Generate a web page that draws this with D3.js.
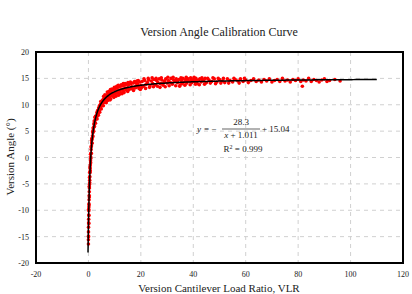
<!DOCTYPE html>
<meta charset="utf-8">
<style>
body { margin: 0; background: #fff; }
text { font-family: "Liberation Serif", "Times New Roman", serif; fill: #222; }
</style>
<svg width="412" height="294" id="svg"></svg>
<script src="https://d3js.org/d3.v7.min.js"></script>
<script>

// measured points (VLR, version angle)
var points = [
  [0.0,-16.4],[0.0,-15.6],[0.02,-14.9],[0.03,-14.1],[0.05,-13.2],[0.08,-12.4],[0.1,-11.7],[0.12,-10.9],
  [0.15,-10.1],[0.18,-9.4],[0.2,-8.8],[0.25,-8.0],[0.3,-7.2],[0.33,-6.5],[0.38,-5.8],[0.42,-5.1],
  [0.48,-4.3],[0.52,-3.6],[0.58,-2.9],[0.65,-2.1],[0.72,-1.4],[0.8,-0.6],[0.88,0.1],[0.95,0.8],
  [1.05,1.5],[1.15,2.2],[1.25,2.8],[1.4,3.5],[1.55,4.1],[1.7,4.7],[1.85,5.2],[2.0,5.7],
  [2.2,6.2],[2.4,6.7],[2.6,7.1],[2.8,7.6],[3.0,7.9],[0.1,-9.8],[0.3,-5.5],[0.6,-1.8],
  [1.0,2.0],[1.3,3.6],[1.8,5.6],[2.2,6.9],[2.5,7.6],[0.4,-3.8],[0.9,-0.2],
  [0.2,-11.0],[0.35,-7.5],[0.5,-4.8],[0.7,-2.5],[0.85,-1.0],[1.1,0.8],[1.4,2.7],[1.7,4.0],
  [2.0,5.0],[2.3,5.9],[2.7,6.5],[0.15,-12.5],[0.5,-2.8],[0.8,0.6],[1.2,3.2],[1.6,4.9],
  [2.1,6.4],[2.7,7.8],[0.05,-15.0],[0.25,-9.0],
  [3.2,8.5],[3.4,8.0],[3.5,8.9],[3.7,8.6],[3.9,9.4],[4.0,8.9],[4.2,9.8],[4.4,9.3],
  [4.6,10.1],[4.8,9.7],[5.0,10.6],[5.2,10.0],[5.4,10.9],[5.6,10.4],[5.9,11.2],[6.1,10.7],
  [6.4,11.5],[6.6,11.0],[6.9,11.8],[7.1,11.3],[7.4,12.0],[7.7,11.5],[8.0,12.3],[8.3,11.7],
  [8.6,12.5],[8.9,12.0],[9.2,12.8],[9.5,12.1],[9.8,12.9],[10.0,12.3],
  [10.4,13.1],[10.7,12.4],[11.0,13.2],[11.3,12.6],[11.6,13.4],[12.0,12.8],[12.3,13.5],[12.7,12.9],
  [13.0,13.6],[13.4,13.0],[13.8,13.7],[14.1,13.1],[14.5,13.9],[14.9,13.2],[15.3,13.8],[15.7,13.0],
  [16.1,14.0],[16.5,13.4],[17.0,14.1],[17.4,13.3],[17.8,14.2],[18.2,13.6],[18.7,14.0],[19.1,13.4],
  [19.6,14.3],[20.0,13.7],
  [3.1,7.6],[3.6,8.3],[4.1,9.0],[4.5,9.6],[5.1,9.8],[5.5,10.3],[6.0,10.5],[6.5,10.8],
  [7.0,11.0],[7.5,11.3],[8.1,11.4],[8.8,11.7],[9.4,11.9],[10.2,12.0],[11.1,12.3],[12.1,12.5],
  [13.2,12.7],[14.3,12.8],[15.5,12.9],[16.8,13.0],[18.0,13.2],[19.3,13.1],[10.8,13.5],[12.5,13.8],
  [14.0,14.0],[16.0,14.3],[18.5,14.5],[6.3,11.9],[7.8,12.5],[9.0,13.0],
  [3.3,7.3],[3.8,8.0],[4.3,8.6],[4.9,9.2],[5.7,9.8],[6.8,10.4],[7.3,10.8],[8.5,11.1],
  [9.7,11.4],[11.5,11.8],[12.8,12.1],[13.6,12.3],[15.0,12.5],[17.2,12.7],[19.8,12.9],[11.8,12.0],
  [8.2,10.9],[10.5,11.6],[4.7,10.6],[5.8,11.6],[7.2,12.4],[8.4,12.9],[9.9,13.3],[11.4,13.7],
  [13.3,14.0],[15.1,14.2],[17.6,14.4],[19.0,14.6],
  [20.5,14.4],[21,13.5],[21.5,14.6],[22,13.9],[22.5,14.2],[23,14.7],[23.5,13.6],[24,14.5],
  [24.5,14.0],[25,14.8],[25.5,13.8],[26,14.6],[26.5,14.2],[27,14.9],[27.5,14.0],[28,14.7],
  [28.5,13.7],[29,14.5],[29.5,14.9],[30,14.1],[30.5,14.6],[31,14.3],[31.5,15.0],[32,13.9],
  [32.5,14.7],[33,14.4],[33.5,14.9],[34,14.2],[34.5,14.8],[35,13.8],[35.5,14.6],[36,15.0],
  [36.5,14.3],[37,14.8],[37.5,14.1],[38,14.9],[38.5,14.5],[39,15.1],[39.5,14.2],[40,14.8],
  [40.5,14.4],[41,15.0],[41.5,14.0],[42,14.7],[42.5,14.9],[43,14.3],[43.5,14.8],[44,14.5],
  [44.5,15.0],[45,14.2],
  [20.2,13.2],[21.2,14.9],[21.8,13.1],[22.8,15.0],[23.3,13.3],[24.3,15.1],[24.8,13.4],[25.8,15.0],
  [26.3,13.5],[27.3,13.3],[27.8,15.1],[28.8,14.2],[29.3,13.4],[30.3,15.2],[30.8,13.6],[31.8,14.1],
  [32.3,15.2],[33.3,13.6],[33.8,14.5],[34.8,13.5],[35.3,15.1],[35.8,14.0],[36.8,13.7],[37.3,15.2],
  [37.8,14.6],[38.8,13.8],[39.3,14.7],[40.3,15.2],[40.8,13.9],[41.3,14.6],[42.3,13.8],[43.3,15.1],
  [44.3,13.9],[45.5,15.0],[46.5,14.1],[47.5,15.1],[48.5,14.0],[49.5,15.0],[50.5,14.1],[51.5,15.0],
  [53.5,14.1],[55.5,15.0],[57.5,14.1],[59.5,15.0],
  [46,14.7],[47,14.4],[48,14.9],[49,14.3],[50,14.8],[51,14.5],[52,14.2],[53,14.9],
  [54,14.6],[55,14.3],[56,14.8],[57,14.5],[58,14.9],[59,14.4],[60,14.7],[61,14.2],
  [62,14.6],[63,14.9],[64,14.4],[65,14.7],[66,14.3],[67,14.8],[68,14.5],[69,14.9],
  [70,14.3],[71,14.6],[72,14.8],[73,14.4],[74,15.0],[75,14.5],[76,14.7],[77,14.3],
  [78,14.8],[79,14.6],[80,14.9],[81,14.4],[81.6,13.5],[82,14.7],[83,14.5],[84,15.0],
  [85,14.4],[86,14.8],[87,14.6],[88,14.3],[89,14.7],[90,14.9],[91,14.4],[92,14.6],
  [94,14.8],[96,14.5]
];

// fitted curve y = -a/(x+b) + c, shown in the annotation
var fitA = 28.3, fitB = 1.011, fitC = 15.04;
var fitRange = [-0.155, 110];

var xTicks = [-20, 0, 20, 40, 60, 80, 100, 120];
var yTicks = [-20, -15, -10, -5, 0, 5, 10, 15, 20];

var svg = d3.select("svg");

var x = d3.scaleLinear().domain([-20, 120]).range([36, 403]);
var y = d3.scaleLinear().domain([-20, 20]).range([263, 52]);

// grid
svg.append("g").selectAll("line")
    .data(xTicks.slice(1, -1))
    .enter().append("line")
      .attr("x1", d => x(d)).attr("x2", d => x(d))
      .attr("y1", y(20)).attr("y2", y(-20))
      .attr("stroke", "#d0d0d0").attr("stroke-dasharray", "4,4");
svg.append("g").selectAll("line")
    .data(yTicks.slice(1, -1))
    .enter().append("line")
      .attr("x1", x(-20)).attr("x2", x(120))
      .attr("y1", d => y(d)).attr("y2", d => y(d))
      .attr("stroke", "#d0d0d0").attr("stroke-dasharray", "4,4");

// tick labels
svg.append("g").selectAll("text")
    .data(xTicks)
    .enter().append("text")
      .attr("x", d => x(d)).attr("y", 277)
      .attr("text-anchor", "middle")
      .style("font-size", "8px")
      .text(d => d);
svg.append("g").selectAll("text")
    .data(yTicks)
    .enter().append("text")
      .attr("x", 29).attr("y", d => y(d) + 3)
      .attr("text-anchor", "end")
      .style("font-size", "8px")
      .text(d => d);

// scatter
svg.append("g").selectAll("circle")
    .data(points)
    .enter().append("circle")
      .attr("cx", d => x(d[0]))
      .attr("cy", d => y(d[1]))
      .attr("r", 1.8)
      .attr("fill", "#ff0000");

// fit line
var fitPts = d3.range(0, 401).map(function(i) {
  var t = i / 400;
  var xv = fitRange[0] + (fitRange[1] - fitRange[0]) * Math.pow(t, 3);
  return [xv, fitC - fitA / (xv + fitB)];
});
svg.append("path")
    .datum(fitPts)
    .attr("fill", "none")
    .attr("stroke", "#000")
    .attr("stroke-width", 1.5)
    .attr("d", d3.line().x(d => x(d[0])).y(d => y(d[1])));

// frame
svg.append("rect")
    .attr("x", x(-20)).attr("y", y(20))
    .attr("width", x(120) - x(-20)).attr("height", y(-20) - y(20))
    .attr("fill", "none").attr("stroke", "#000").attr("stroke-width", 2);

// equation
var eq = svg.append("g").style("font-size", "9px");
eq.append("text").attr("x", 197).attr("y", 132).style("font-style", "italic").text("y");
eq.append("text").attr("x", 204).attr("y", 132).text("= \u2212");
eq.append("text").attr("x", 241).attr("y", 125).attr("text-anchor", "middle").text("28.3");
eq.append("line").attr("x1", 222).attr("x2", 260).attr("y1", 129).attr("y2", 129)
    .attr("stroke", "#222").attr("stroke-width", 0.7);
var den = eq.append("text").attr("x", 241).attr("y", 138).attr("text-anchor", "middle");
den.append("tspan").style("font-style", "italic").text("x");
den.append("tspan").text(" + 1.011");
eq.append("text").attr("x", 262).attr("y", 132).text("+ 15.04");
var r2 = eq.append("text").attr("x", 243).attr("y", 152).attr("text-anchor", "middle");
r2.append("tspan").text("R");
r2.append("tspan").attr("dy", -3).style("font-size", "6px").text("2");
r2.append("tspan").attr("dy", 3).text(" = 0.999");

// titles
svg.append("text")
    .attr("x", 219).attr("y", 36)
    .attr("text-anchor", "middle")
    .style("font-size", "12px")
    .text("Version Angle Calibration Curve");
svg.append("text")
    .attr("x", 219).attr("y", 292)
    .attr("text-anchor", "middle")
    .style("font-size", "11px")
    .text("Version Cantilever Load Ratio, VLR");
svg.append("text")
    .attr("transform", "translate(14,157) rotate(-90)")
    .attr("text-anchor", "middle")
    .style("font-size", "11px")
    .text("Version Angle (\u00b0)");

</script>
